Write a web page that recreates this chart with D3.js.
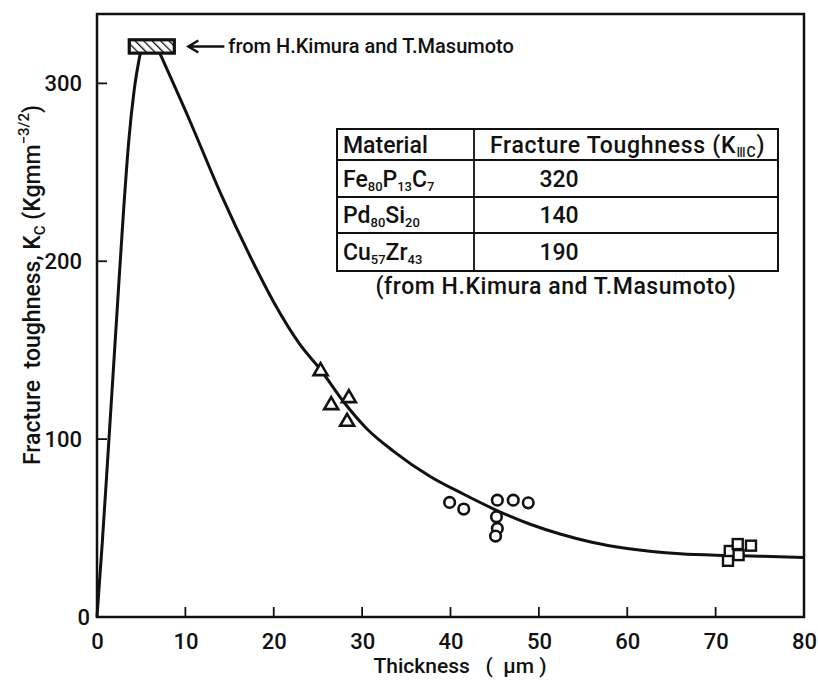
<!DOCTYPE html>
<html>
<head>
<meta charset="utf-8">
<script src="https://cdn.jsdelivr.net/npm/d3@7/dist/d3.min.js"></script>
<style>
  html, body { margin: 0; padding: 0; background: #fff; }
  svg text { font-family: Roboto, "DejaVu Sans", sans-serif; font-weight: 500; fill: #111; }
</style>
</head>
<body>
<svg id="chart" width="818" height="682"></svg>
<script>
// Axis ticks
const xTicks = [0, 10, 20, 30, 40, 50, 60, 70, 80];
const yTicks = [0, 100, 200, 300];

// Fitted curve: steep rise up to the plateau, then decay with thickness
const riseCurve = [[0, 0], [0.6, 42], [1.2, 88], [1.8, 135], [2.4, 182], [3.0, 228], [3.6, 268], [4.2, 296], [4.9, 317]];
const decayCurve = [[7.1, 317], [10.5, 279], [14, 238], [17.5, 201], [20, 177], [23, 153], [25.3, 139], [27.9, 121],
  [30.5, 106], [33.6, 93], [37.7, 79], [41.5, 69], [45.2, 60], [49.1, 52], [52.5, 46.5], [56, 42], [60, 38.5],
  [66, 35.5], [71, 34.6], [75, 34.2], [80, 33.5]];

// Measured points (thickness µm, Kc)
const triangles = [[25.3, 138.8], [26.5, 119.7], [28.5, 123.6], [28.3, 110.3]];
const circles = [[39.9, 64.4], [41.5, 60.7], [45.3, 65.7], [47.1, 65.7], [48.8, 64.2], [45.2, 56.3], [45.3, 49.8], [45.1, 45.5]];
const squares = [[71.4, 31.6], [71.6, 37.1], [72.5, 41.0], [72.6, 34.8], [74.0, 40.1]];

// Literature value band for Fe80P13C7 (hatched box)
const refBand = { x0: 3.65, x1: 8.75, y0: 317, y1: 324.5 };
const refNote = "from H.Kimura and T.Masumoto";

// Inset table
const tableHeader = ["Material", "Fracture Toughness (K", "ⅢC", ")"];
const tableMaterials = [
  [["Fe", "80"], ["P", "13"], ["C", "7"]],
  [["Pd", "80"], ["Si", "20"]],
  [["Cu", "57"], ["Zr", "43"]]
];
const tableValues = ["320", "140", "190"];
const tableCaption = "(from H.Kimura and T.Masumoto)";

const svg = d3.select("#chart");
const x = d3.scaleLinear().domain([0, 80]).range([97, 804]);
const y = d3.scaleLinear().domain([0, 339]).range([617, 14]);

// hatch pattern
const defs = svg.append("defs");
const pat = defs.append("pattern").attr("id", "hatch").attr("patternUnits", "userSpaceOnUse")
  .attr("width", 6).attr("height", 6).attr("patternTransform", "rotate(-45)");
pat.append("rect").attr("width", 6).attr("height", 6).attr("fill", "#fff");
pat.append("line").attr("x1", 0).attr("y1", 0).attr("x2", 0).attr("y2", 6).attr("stroke", "#111").attr("stroke-width", 2.6);

// Frame
svg.append("rect").attr("x", x(0)).attr("y", y(339)).attr("width", x(80) - x(0)).attr("height", y(0) - y(339))
  .attr("fill", "none").attr("stroke", "#111").attr("stroke-width", 2.5);

// Axes with inward ticks
const xAxis = d3.axisBottom(x).tickValues(xTicks).tickSize(0).tickPadding(16).tickFormat(d3.format("d"));
const gx = svg.append("g").attr("transform", `translate(0,${y(0)})`).call(xAxis);
gx.select(".domain").remove();
gx.selectAll("text").attr("font-size", 22).attr("fill", "#111");
svg.append("g").selectAll("line").data(xTicks.filter(d => d > 0 && d < 80)).join("line")
  .attr("x1", d => x(d)).attr("x2", d => x(d)).attr("y1", y(0)).attr("y2", y(0) - 10)
  .attr("stroke", "#111").attr("stroke-width", 1.8);

const yAxis = d3.axisLeft(y).tickValues(yTicks).tickSize(0).tickPadding(15).tickFormat(d3.format("d"));
const gy = svg.append("g").attr("transform", `translate(${x(0)},0)`).call(yAxis);
gy.select(".domain").remove();
gy.selectAll("text").attr("font-size", 22).attr("fill", "#111");
gy.selectAll(".tick").filter(d => d === 0).select("text").attr("dx", 8);
svg.append("g").selectAll("line").data(yTicks.filter(d => d > 0)).join("line")
  .attr("x1", x(0)).attr("x2", x(0) + 10).attr("y1", d => y(d)).attr("y2", d => y(d))
  .attr("stroke", "#111").attr("stroke-width", 1.8);

// Axis titles
svg.append("text").attr("x", 460).attr("y", 673).attr("text-anchor", "middle").attr("font-size", 21)
  .attr("xml:space", "preserve").text("Thickness   (  μm )");

const yl = svg.append("text").attr("transform", "translate(40,285) rotate(-90)")
  .attr("text-anchor", "middle").attr("font-size", 23).attr("xml:space", "preserve");
yl.append("tspan").text("Fracture  toughness, K");
yl.append("tspan").attr("font-size", 15).attr("dy", 5).text("C");
yl.append("tspan").attr("dy", -5).text(" (Kgmm");
yl.append("tspan").attr("font-size", 15).attr("dy", -11).text("−3/2");
yl.append("tspan").attr("dy", 11).text(")");

// Curve
const line = d3.line().x(d => x(d[0])).y(d => y(d[1])).curve(d3.curveMonotoneX);
[riseCurve, decayCurve].forEach(c => {
  svg.append("path").datum(c).attr("d", line).attr("fill", "none").attr("stroke", "#111").attr("stroke-width", 3);
});

// Hatched literature box
svg.append("rect").attr("x", x(refBand.x0)).attr("y", y(refBand.y1))
  .attr("width", x(refBand.x1) - x(refBand.x0)).attr("height", y(refBand.y0) - y(refBand.y1))
  .attr("fill", "url(#hatch)").attr("stroke", "#111").attr("stroke-width", 3.2);

// Arrow + note
const ay = y((refBand.y0 + refBand.y1) / 2);
const ax0 = x(refBand.x1) + 14, ax1 = ax0 + 36;
svg.append("path").attr("d", `M${ax1},${ay} L${ax0},${ay} M${ax0 + 10},${ay - 6} L${ax0},${ay} L${ax0 + 10},${ay + 6}`)
  .attr("fill", "none").attr("stroke", "#111").attr("stroke-width", 2.4);
svg.append("text").attr("x", ax1 + 4).attr("y", ay + 7).attr("font-size", 20).text(refNote);

// Markers
svg.append("g").selectAll("path").data(triangles).join("path")
  .attr("transform", d => `translate(${x(d[0])},${y(d[1])})`)
  .attr("d", "M0,-7 L7,5 L-7,5 Z").attr("fill", "#fff").attr("stroke", "#111").attr("stroke-width", 2.6);
svg.append("g").selectAll("circle").data(circles).join("circle")
  .attr("cx", d => x(d[0])).attr("cy", d => y(d[1])).attr("r", 5.3)
  .attr("fill", "#fff").attr("stroke", "#111").attr("stroke-width", 2.6);
svg.append("g").selectAll("rect").data(squares).join("rect")
  .attr("x", d => x(d[0]) - 5).attr("y", d => y(d[1]) - 5).attr("width", 10).attr("height", 10)
  .attr("fill", "#fff").attr("stroke", "#111").attr("stroke-width", 2.4);

// Inset table
const tb = { x0: 337, x1: 778, col: 474, rows: [129, 160, 197, 233, 271] };
const tg = svg.append("g");
tg.append("rect").attr("x", tb.x0).attr("y", tb.rows[0]).attr("width", tb.x1 - tb.x0).attr("height", tb.rows[4] - tb.rows[0])
  .attr("fill", "#fff").attr("stroke", "#111").attr("stroke-width", 2);
tg.selectAll("line.r").data(tb.rows.slice(1, 4)).join("line").attr("class", "r")
  .attr("x1", tb.x0).attr("x2", tb.x1).attr("y1", d => d).attr("y2", d => d).attr("stroke", "#111").attr("stroke-width", 1.8);
tg.append("line").attr("x1", tb.col).attr("x2", tb.col).attr("y1", tb.rows[0]).attr("y2", tb.rows[4])
  .attr("stroke", "#111").attr("stroke-width", 1.8);

tg.append("text").attr("x", 343).attr("y", 153).attr("font-size", 23).text(tableHeader[0]);
const ht = tg.append("text").attr("x", 490).attr("y", 153).attr("font-size", 23).attr("letter-spacing", 0.7);
ht.append("tspan").text(tableHeader[1]);
ht.append("tspan").attr("font-size", 14).attr("dy", 4).text(tableHeader[2]);
ht.append("tspan").attr("dy", -4).text(tableHeader[3]);

tableMaterials.forEach((parts, i) => {
  const base = (tb.rows[i + 1] + tb.rows[i + 2]) / 2 + 8;
  const t = tg.append("text").attr("x", 343).attr("y", base).attr("font-size", 23);
  parts.forEach(p => {
    t.append("tspan").attr("y", base).text(p[0]);
    t.append("tspan").attr("font-size", 13).attr("y", base + 4).text(p[1]);
  });
  tg.append("text").attr("x", 559).attr("y", base).attr("text-anchor", "middle").attr("font-size", 23).text(tableValues[i]);
});

tg.append("text").attr("x", 556).attr("y", 294).attr("text-anchor", "middle").attr("font-size", 23)
  .attr("letter-spacing", 0.55).text(tableCaption);
</script>
</body>
</html>
